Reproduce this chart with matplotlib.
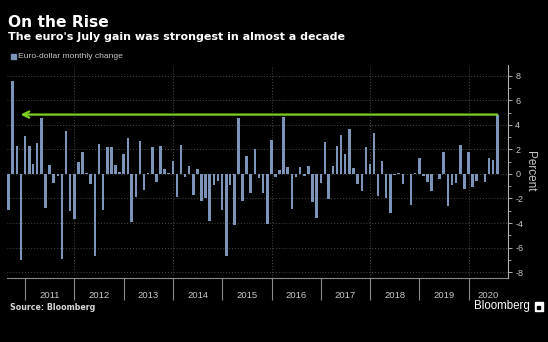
import matplotlib
matplotlib.use("Agg")
import matplotlib.pyplot as plt
import matplotlib.dates as mdates
import matplotlib.transforms as mtrans
from matplotlib.patches import Rectangle
import pandas as pd
import numpy as np

# ---- data (euro-dollar monthly % change, month-end) ----
chg_2010 = [-2.9, 7.55, 2.25, -7.0, 3.07]  # Aug-Dec
chg_2011 = [2.25, 0.8, 2.55, 4.6, -2.8, 0.7, -0.73, -0.2, -6.9, 3.5, -3.0, -3.67]
chg_2012 = [0.95, 1.8, 0.08, -0.8, -6.66, 2.42, -2.9, 2.2, 2.2, 0.73, 0.16, 1.6]
chg_2013 = [2.93, -3.9, -1.87, 2.7, -1.3, 0.08, 2.2, -0.63, 2.28, 0.38, 0.06, 1.08]
chg_2014 = [-1.87, 2.34, -0.25, 0.65, -1.74, 0.38, -2.2, -1.96, -3.86, -0.87, -0.6, -2.9]
chg_2015 = [-6.7, -0.87, -4.18, 4.6, -2.17, 1.47, -1.52, 2.04, -0.35, -1.58, -4.05, 2.77]
chg_2016 = [-0.27, 0.35, 4.65, 0.57, -2.83, -0.27, 0.57, -0.14, 0.62, -2.3, -3.6, -0.7]
chg_2017 = [2.6, -2.07, 0.65, 2.25, 3.2, 1.6, 3.67, 0.52, -0.84, -1.41, 2.2, 0.82]
chg_2018 = [3.37, -1.8, 1.03, -2.0, -3.18, -0.1, 0.06, -0.8, 0.03, -2.55, 0.04, 1.3]
chg_2019 = [-0.19, -0.68, -1.36, -0.03, -0.4, 1.82, -2.58, -0.87, -0.76, 2.34, -1.2, 1.77]
chg_2020 = [-1.06, -0.6, 0.03, -0.68, 1.3, 1.17, 4.84]  # Jan-Jul

values = (chg_2010 + chg_2011 + chg_2012 + chg_2013 + chg_2014 + chg_2015
          + chg_2016 + chg_2017 + chg_2018 + chg_2019 + chg_2020)
months = pd.date_range("2010-08-31", periods=len(values), freq="ME")
years = list(range(2011, 2021))
y_ticks = [-8, -6, -4, -2, 0, 2, 4, 6, 8]

title = "On the Rise"
subtitle = "The euro's July gain was strongest in almost a decade"
legend_label = "Euro-dollar monthly change"

BAR = "#7d94b9"
GREEN = "#7fd320"
GRAY = "#8a8a8a"
TXT = "#c8c8c8"

plt.rcParams["axes.unicode_minus"] = False
plt.rcParams["font.family"] = ["Liberation Sans", "DejaVu Sans"]

W, H = 548, 342
fig = plt.figure(figsize=(W / 100, H / 100), dpi=100, facecolor="black")
ax = fig.add_axes([7 / W, 1 - 278 / H, (508.3 - 7) / W, (278 - 65) / H], facecolor="black")

xmin = mdates.date2num(pd.Timestamp("2010-08-19"))
xmax = mdates.date2num(pd.Timestamp("2020-10-21"))
xs = mdates.date2num(months)
ax.bar(xs, values, width=19, color=BAR, edgecolor="none", zorder=3)
ax.set_xlim(xmin, xmax)
ax.set_ylim(-8.48, 8.88)

# grid
for yv in y_ticks:
    ax.axhline(yv, color="#4a4a4a", lw=0.7, ls=(0, (1, 2)), zorder=1)
for yr in years:
    if yr % 2 == 0:
        ax.axvline(mdates.date2num(pd.Timestamp(f"{yr}-01-01")), color="#4a4a4a",
                   lw=0.7, ls=(0, (1, 2)), zorder=1)

# spines
for s in ["top", "left"]:
    ax.spines[s].set_visible(False)
ax.spines["bottom"].set_color(GRAY)
ax.spines["right"].set_color("#b0b0b0")
ax.spines["bottom"].set_linewidth(0.8)
ax.spines["right"].set_linewidth(0.8)

# y axis on right
ax.yaxis.tick_right()
ax.set_yticks(y_ticks)
ax.set_yticklabels([str(v) for v in y_ticks])
ax.set_yticks(np.arange(-8, 9, 1), minor=True)
ax.tick_params(axis="y", which="major", length=3, width=0.7, color="#b0b0b0",
               labelcolor=TXT, labelsize=6.5, pad=2)
ax.tick_params(axis="y", which="minor", length=2, width=0.6, color="#b0b0b0")
ax.yaxis.set_label_position("right")
ax.set_ylabel("Percent", rotation=270, color=TXT, fontsize=8.5, labelpad=9)

# x axis: year boundaries as long ticks, labels centred in each year span
ax.set_xticks([mdates.date2num(pd.Timestamp(f"{yr}-01-01")) for yr in years])
ax.set_xticklabels([])
ax.tick_params(axis="x", which="major", length=16, width=0.8, color=GRAY, direction="out")
blend = mtrans.blended_transform_factory(ax.transData, fig.transFigure)
for yr in years:
    a = max(mdates.date2num(pd.Timestamp(f"{yr}-01-01")), xmin)
    b = min(mdates.date2num(pd.Timestamp(f"{yr + 1}-01-01")), xmax)
    fig.text((a + b) / 2, 1 - 295 / H, str(yr), transform=blend, ha="center",
             va="center", color=TXT, fontsize=6.8)

# green arrow at July 2020 level
level = values[-1]
ax.annotate("", xy=(mdates.date2num(pd.Timestamp("2010-11-28")), level),
            xytext=(xs[-1], level),
            arrowprops=dict(arrowstyle="->", color=GREEN, lw=1.6,
                            mutation_scale=11, shrinkA=0, shrinkB=0), zorder=5)

# titles
fig.text(7.5 / W, 1 - 22.5 / H, title, color="white", fontsize=11.2,
         fontweight="bold", va="center", ha="left", family="DejaVu Sans")
fig.text(7.5 / W, 1 - 37.5 / H, subtitle, color="white", fontsize=8.05,
         fontweight="bold", va="center", ha="left", family="DejaVu Sans")

# legend
fig.patches.append(Rectangle((11 / W, 1 - 58.5 / H), 5 / W, 5 / H, color=BAR,
                             transform=fig.transFigure, figure=fig))
fig.text(18 / W, 1 - 56 / H, legend_label, color=TXT, fontsize=6.1, va="center", ha="left")

# footer
fig.text(9.8 / W, 1 - 308 / H, "Source: Bloomberg", color="#d8d8d8", fontsize=5.7,
         fontweight="bold", va="center", ha="left", family="DejaVu Sans")
fig.text(530 / W, 1 - 306.5 / H, "Bloomberg", color="white", fontsize=8.3,
         va="center", ha="right")
fig.patches.append(Rectangle((534.5 / W, 1 - 311 / H), 8 / W, 9 / H, color="white",
                             transform=fig.transFigure, figure=fig))
fig.patches.append(Rectangle((536.5 / W, 1 - 309 / H), 3 / W, 3 / H, color="black",
                             transform=fig.transFigure, figure=fig))

fig.savefig("out.png", dpi=100, facecolor="black")
